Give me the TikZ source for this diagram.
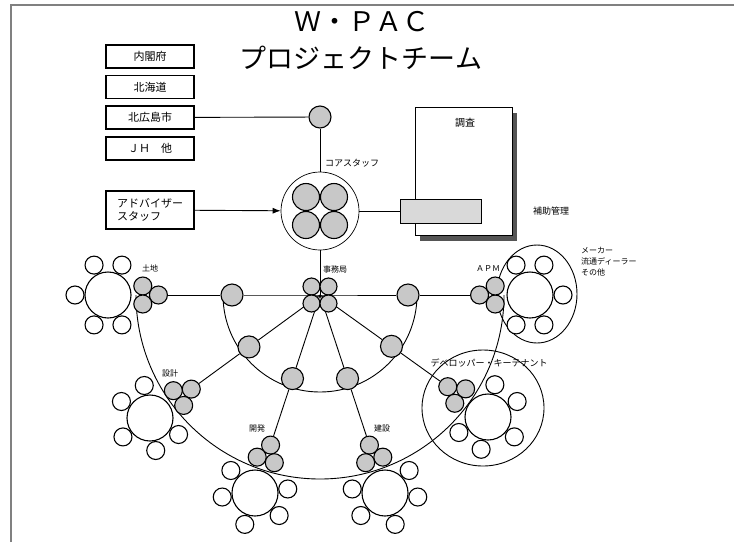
\documentclass[tikz,border=0pt]{standalone}
\usepackage{fontspec}
\setmainfont{Noto Sans CJK JP}
\usetikzlibrary{calc,arrows.meta,backgrounds}
\definecolor{staffgray}{HTML}{C8C8C8}
\definecolor{panelgray}{HTML}{D9D9D9}
\definecolor{shadowgray}{HTML}{555555}

\begin{document}
\begin{tikzpicture}[x=1pt, y=-1pt,
    orgbox/.style={draw, line width=1.3pt, minimum width=88pt, minimum height=23pt, inner sep=0pt, font=\fontsize{11}{13}\selectfont},
    desk/.style={circle, draw, fill=white, line width=1.1pt, minimum size=46pt, inner sep=0pt},
    member/.style={circle, draw, fill=white, line width=1.1pt, minimum size=18pt, inner sep=0pt},
    staff/.style={circle, draw, fill=staffgray, line width=1.1pt, minimum size=18pt, inner sep=0pt},
    hub/.style={circle, draw, fill=staffgray, line width=1.1pt, minimum size=22pt, inner sep=0pt},
    tag/.style={inner sep=1pt, font=\fontsize{8}{11}\selectfont},
    link/.style={line width=0.9pt}]
    \useasboundingbox (0,0) rectangle (734,542);
    \draw[line width=2pt, gray] (11,542) -- (11,5) -- (734,5);
    % title
    \node[font=\fontsize{27}{29}\selectfont] (title1) at (362,22) {Ｗ・ＰＡＣ};
    \node[font=\fontsize{27}{29}\selectfont] (title2) at (361,58) {プロジェクトチーム};
    % outside members
    \node[orgbox] (naikaku) at (150,56.5) {内閣府};
    \node[orgbox] (hokkaido) at (150,87) {北海道};
    \node[orgbox] (kitahiro) at (150,117.5) {北広島市};
    \node[orgbox] (jh) at (150,148.5) {ＪＨ\quad 他};
    \node[orgbox, minimum height=38pt, align=left] (adv) at (150,210) {アドバイザー\\スタッフ};
    % core staff
    \node[hub] (kanri) at (320,117) {};
    \node[circle, draw, fill=white, line width=0.7pt, minimum size=78pt] (core) at (320,211) {};
    \foreach \dx/\dy [count=\i] in {-14/-14, 14/-14, -14/14, 14/14}
        \node[staff, minimum size=27pt] (core-s\i) at (320+\dx,211+\dy) {};
    \node[tag, anchor=west, font=\fontsize{9}{11}\selectfont] (l-core) at (324,163) {コアスタッフ};
    % report
    \node[fill=shadowgray, minimum width=97pt, minimum height=128pt] (report-sh) at (468.5,176.5) {};
    \node[draw, fill=white, line width=1pt, minimum width=97pt, minimum height=128pt] (report) at (463.5,171) {};
    \node[draw, fill=panelgray, line width=1pt, minimum width=81pt, minimum height=24pt] (panel) at (440.5,211) {};
    \node[tag, font=\fontsize{10}{12}\selectfont] (l-chosa) at (465,123) {調査};
    \node[tag, anchor=west, font=\fontsize{9}{11}\selectfont] (l-hojo) at (532,211) {補助管理};
    % secretariat
    \coordinate (jimu) at (320,295);
    \foreach \dx/\dy [count=\i] in {-8.5/-8.5, 8.5/-8.5, -8.5/8.5, 8.5/8.5}
        \node[staff, minimum size=17pt] (jimu-s\i) at (320+\dx,295+\dy) {};
    \node[tag] (l-jimu) at (335,269) {事務局};
    % tables
    \foreach \nm/\cx/\cy/\ang in {tochi/108/295/0, apm/530/295/180, sekkei/150/418/35,
            kaihatsu/255/493/72, kensetsu/385/493/108, dev/488/417/143} {
        \node[desk] (\nm) at (\cx,\cy) {};
        \foreach \d [count=\i] in {65,115,180,245,295}
            \node[member] (\nm-m\i) at ($(\nm)+(\ang+\d:33pt)$) {};
        \coordinate (\nm-c) at ($(\nm)+(\ang:40pt)$);
        \foreach \d [count=\i] in {0,120,240}
            \node[staff] (\nm-g\i) at ($(\nm-c)+(\ang+\d:10.4pt)$) {};
    }
    \node[hub] (hubL) at (232,295) {};
    \node[hub] (hubR) at (408,295) {};
    \node[hub] (hub1) at ($(jimu)!88pt!(sekkei-g1)$) {};
    \node[hub] (hub2) at ($(jimu)!88pt!(kaihatsu-g1)$) {};
    \node[hub] (hub3) at ($(jimu)!88pt!(kensetsu-g1)$) {};
    \node[hub] (hub4) at ($(jimu)!88pt!(dev-g1)$) {};
    \node[tag] (l-tochi) at (150,268) {土地};
    \node[tag] (l-apm) at (488,269) {ＡＰＭ};
    \node[tag, anchor=north west, align=left] (l-maker) at (580,246) {メーカー\\流通ディーラー\\その他};
    \node[tag] (l-sekkei) at (170,373) {設計};
    \node[tag] (l-kaihatsu) at (257,428) {開発};
    \node[tag] (l-kensetsu) at (382,428) {建設};
    \node[tag, font=\fontsize{9}{11}\selectfont] (l-dev) at (489,363) {デベロッパー・キーテナント};
    \draw[link, -{Latex[length=8pt, width=6pt]}] (adv) -- (core);
    % connectors
    \begin{scope}[on background layer]
        \draw[link] (kitahiro) -- (kanri);
        \draw[link] (kanri) -- (core);
        \draw[link] (core) -- (panel);
        \draw[link] (core) -- (jimu);
        \draw[link] (tochi-g1) -- (hubL) -- (jimu) -- (hubR) -- (apm-g1);
        \foreach \h/\nm in {hub1/sekkei, hub2/kaihatsu, hub3/kensetsu, hub4/dev}
            \draw[link] (jimu) -- (\h) -- (\nm-g1);
        \draw[link] (jimu) ++(180:97pt) arc[start angle=180, end angle=360, radius=97pt];
        \draw[link] (jimu) ++(180:184pt) arc[start angle=180, end angle=360, radius=184pt];
        \draw[link] (537,294) ellipse[x radius=40pt, y radius=49pt];
        \draw[link] (483,408) ellipse[x radius=61pt, y radius=58pt];
    \end{scope}
\end{tikzpicture}
\end{document}
